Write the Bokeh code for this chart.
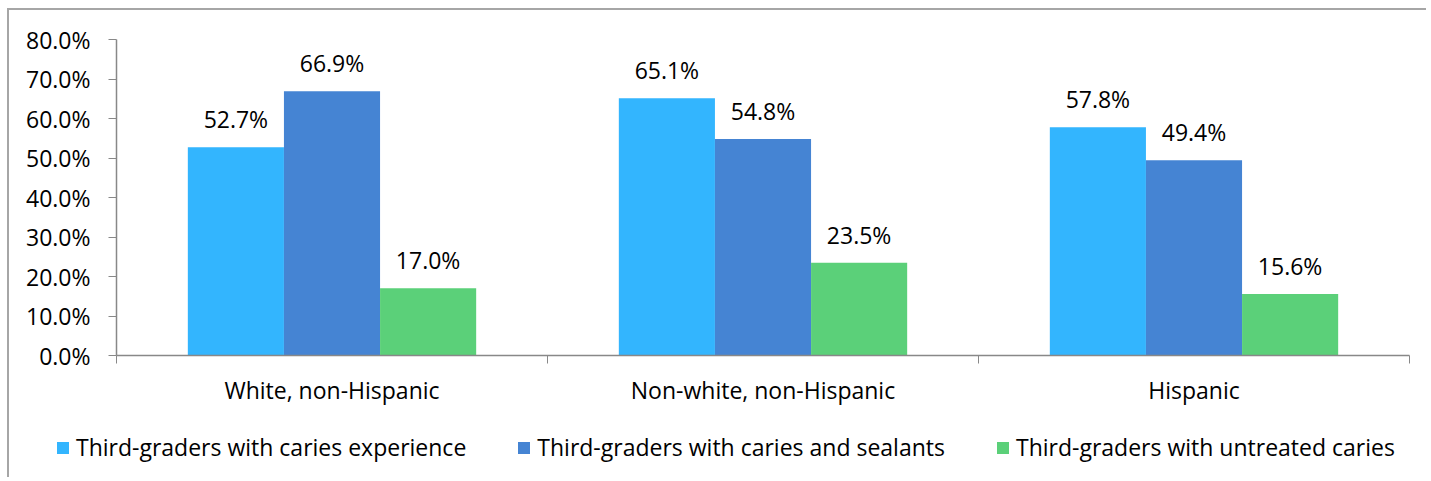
from bokeh.plotting import figure
from bokeh.models import ColumnDataSource, Range1d, FixedTicker, NumeralTickFormatter, LabelSet, Legend, LegendItem
from bokeh.core.properties import value
from bokeh.transform import dodge
from bokeh.embed import file_html
from bokeh.resources import INLINE

categories = ["White, non-Hispanic", "Non-white, non-Hispanic", "Hispanic"]
series_names = ["Third-graders with caries experience",
                "Third-graders with caries and sealants",
                "Third-graders with untreated caries"]
caries_experience = [0.527, 0.651, 0.578]
caries_sealants = [0.669, 0.548, 0.494]
untreated_caries = [0.170, 0.235, 0.156]
colors = ["#33B5FE", "#4584D3", "#5BD079"]
y_ticks = [0.0, 0.1, 0.2, 0.3, 0.4, 0.5, 0.6, 0.7, 0.8]

FONT = "Open Sans"
FS = "23px"
AX = "#888888"

# layout (canvas pixels)
W, H = 1419, 469
X0_PX, X3_PX = 107, 1400      # where x=0 and x=3 fall
Y0_PX, YT_PX = 345, 29        # where y=0 and y=0.8 fall (from top)
YMAX = 0.8
NCAT = len(categories)
sx = (X3_PX - X0_PX) / NCAT
sy = (Y0_PX - YT_PX) / YMAX

centers = [i + 0.5 for i in range(NCAT)]
src = ColumnDataSource(dict(x=centers, s0=caries_experience, s1=caries_sealants, s2=untreated_caries,
                            l0=[f"{v*100:.1f}%" for v in caries_experience],
                            l1=[f"{v*100:.1f}%" for v in caries_sealants],
                            l2=[f"{v*100:.1f}%" for v in untreated_caries]))

p = figure(width=W, height=H, output_backend="svg", toolbar_location=None,
           x_range=Range1d(-X0_PX / sx, NCAT + (W - X3_PX) / sx),
           y_range=Range1d(-(H - Y0_PX) / sy, YMAX + YT_PX / sy),
           min_border=0)
p.outline_line_color = None
p.grid.visible = False
p.styles = {"border-left": "2px solid #a6a6a6", "border-top": "2px solid #a6a6a6",
            "margin-left": "7px", "margin-top": "8px"}

bw = 0.223
offsets = [-bw, 0.0, bw]
renderers = []
for k in range(3):
    r = p.vbar(x=dodge("x", offsets[k], range=p.x_range), top=f"s{k}", width=bw, bottom=0,
               source=src, fill_color=colors[k], line_color=None)
    renderers.append(r)
    lab = LabelSet(x=dodge("x", offsets[k], range=p.x_range), y=f"s{k}", text=f"l{k}", source=src,
                   text_align="center", text_baseline="alphabetic", y_offset=19,
                   text_font=value(FONT), text_font_size=FS, text_color="#000000")
    p.add_layout(lab)

# axes
p.yaxis.fixed_location = 0
p.yaxis.bounds = (0, YMAX)
p.yaxis.ticker = FixedTicker(ticks=y_ticks)
p.yaxis.formatter = NumeralTickFormatter(format="0.0%")
p.yaxis.axis_line_color = AX
p.yaxis.major_tick_line_color = AX
p.yaxis.major_tick_out = 8
p.yaxis.major_tick_in = 0
p.yaxis.minor_tick_line_color = None
p.yaxis.major_label_standoff = 18
p.yaxis.major_label_text_font = FONT
p.yaxis.major_label_text_font_size = FS
p.yaxis.major_label_text_color = "#000000"

p.xaxis.fixed_location = 0
p.xaxis.bounds = (0, NCAT)
p.xaxis.ticker = FixedTicker(ticks=centers, minor_ticks=list(range(NCAT + 1)))
p.xaxis.major_label_overrides = {c: n for c, n in zip(centers, categories)}
p.xaxis.axis_line_color = AX
p.xaxis.major_tick_line_color = None
p.xaxis.major_tick_out = 0
p.xaxis.major_tick_in = 0
p.xaxis.minor_tick_line_color = AX
p.xaxis.minor_tick_out = 8
p.xaxis.minor_tick_in = 0
p.xaxis.major_label_standoff = 10
p.xaxis.major_label_text_font = FONT
p.xaxis.major_label_text_font_size = FS
p.xaxis.major_label_text_color = "#000000"
p.axis.axis_line_width = 1.5

legend = Legend(items=[LegendItem(label=series_names[k], renderers=[renderers[k]]) for k in range(3)],
                orientation="horizontal", location=(46, 16),
                label_text_font=FONT, label_text_font_size=FS, label_text_color="#000000",
                glyph_width=15, glyph_height=15, spacing=50, label_standoff=6,
                border_line_color=None, background_fill_alpha=0, margin=0, padding=0)
p.add_layout(legend)

open("out.html", "w").write(file_html(p, INLINE))
